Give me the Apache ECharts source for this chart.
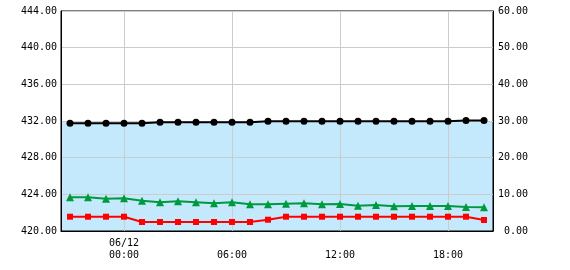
<!DOCTYPE html>
<html>
<head>
<meta charset="utf-8">
<script src="https://cdn.jsdelivr.net/npm/echarts@6/dist/echarts.min.js"></script>
<style>
html,body{margin:0;padding:0;background:#fff;}
#chart{width:570px;height:270px;}
</style>
</head>
<body>
<div id="chart"></div>
<script>
// hourly observation times
const times = [
  '2024-06-11 21:00','2024-06-11 22:00','2024-06-11 23:00',
  '2024-06-12 00:00','2024-06-12 01:00','2024-06-12 02:00','2024-06-12 03:00',
  '2024-06-12 04:00','2024-06-12 05:00','2024-06-12 06:00','2024-06-12 07:00',
  '2024-06-12 08:00','2024-06-12 09:00','2024-06-12 10:00','2024-06-12 11:00',
  '2024-06-12 12:00','2024-06-12 13:00','2024-06-12 14:00','2024-06-12 15:00',
  '2024-06-12 16:00','2024-06-12 17:00','2024-06-12 18:00','2024-06-12 19:00',
  '2024-06-12 20:00'
];
// x tick positions
const xTicks = ['2024-06-12 00:00','2024-06-12 06:00','2024-06-12 12:00','2024-06-12 18:00'];
// left axis (level)
const levelBlack = [
  431.76,431.76,431.76,431.76,431.76,
  431.86,431.86,431.86,431.86,431.86,431.86,
  431.96,431.96,431.96,431.96,431.96,431.96,431.96,431.96,431.96,431.96,431.96,
  432.05,432.05
];
// right axis
const seriesGreen = [
  9.19,9.19,8.81,8.92,8.26,7.83,8.10,7.83,7.55,7.83,7.28,7.28,
  7.45,7.55,7.28,7.36,6.90,7.09,6.73,6.82,6.82,6.82,6.55,6.46
];
const seriesRed = [
  3.90,3.90,3.90,3.90,
  2.45,2.45,2.45,2.45,2.45,2.45,2.45,
  3.08,
  3.90,3.90,3.90,3.90,3.90,3.90,3.90,3.90,3.90,3.90,3.90,
  3.00
];
const leftTicks = {min:420, max:444, interval:4};
const rightTicks = {min:0, max:60, interval:10};
const axisRange = ['2024-06-11 20:30','2024-06-12 20:30'];
const blueBand = [420, 432];

const FONT = 'DejaVu Sans Mono';
const pad = n => (n < 10 ? '0' : '') + n;
const tp = s => echarts.time.parse(s).getTime();
const pair = arr => times.map((t, i) => [tp(t), arr[i]]);
const xTickVals = xTicks.map(tp);

const chart = echarts.init(document.getElementById('chart'), null, {renderer:'canvas'});
chart.setOption({
  animation:false,
  backgroundColor:'#fff',
  grid:{left:61, right:77, top:11, bottom:39, show:true, borderColor:'#000', borderWidth:1, backgroundColor:'transparent'},
  xAxis:{
    type:'value',
    min:tp(axisRange[0]), max:tp(axisRange[1]),
    axisLine:{show:true, onZero:false, lineStyle:{color:'#000', width:1}},
    axisTick:{show:false, customValues:xTickVals},
    splitLine:{show:true, lineStyle:{color:'#cccccc', width:1}},
    axisLabel:{
      customValues:xTickVals,
      color:'#000', fontFamily:FONT, fontSize:10, margin:6, lineHeight:12,
      hideOverlap:false,
      formatter:function(v){
        const d = new Date(v);
        const hm = pad(d.getHours()) + ':' + pad(d.getMinutes());
        if (d.getHours() === 0) return pad(d.getMonth()+1) + '/' + pad(d.getDate()) + '\n' + hm;
        return '\n' + hm;
      }
    }
  },
  yAxis:[
    {
      type:'value', position:'left',
      min:leftTicks.min, max:leftTicks.max, interval:leftTicks.interval,
      axisLine:{show:true, lineStyle:{color:'#000', width:1}},
      axisTick:{show:false},
      splitLine:{show:true, lineStyle:{color:'#cccccc', width:1}},
      axisLabel:{color:'#000', fontFamily:FONT, fontSize:10, margin:4, formatter:v => v.toFixed(2)}
    },
    {
      type:'value', position:'right',
      min:rightTicks.min, max:rightTicks.max, interval:rightTicks.interval,
      axisLine:{show:true, lineStyle:{color:'#000', width:1}},
      axisTick:{show:false},
      splitLine:{show:false},
      axisLabel:{color:'#000', fontFamily:FONT, fontSize:10, margin:35, align:'right', formatter:v => v.toFixed(2)}
    }
  ],
  series:[
    {
      type:'line', yAxisIndex:0, z:-1, data:[], silent:true,
      markArea:{
        silent:true, z:-1,
        itemStyle:{color:'#c4e9fc'},
        data:[[{yAxis:blueBand[0]},{yAxis:blueBand[1]}]]
      }
    },
    {
      type:'line', yAxisIndex:0, data:pair(levelBlack),
      symbol:'circle', symbolSize:7, showAllSymbol:true,
      lineStyle:{color:'#000', width:2}, itemStyle:{color:'#000'}
    },
    {
      type:'line', yAxisIndex:1, data:pair(seriesGreen),
      symbol:'triangle', symbolSize:[8,8], showAllSymbol:true,
      lineStyle:{color:'#009a3e', width:2}, itemStyle:{color:'#009a3e'}
    },
    {
      type:'line', yAxisIndex:1, data:pair(seriesRed),
      symbol:'rect', symbolSize:6, showAllSymbol:true,
      lineStyle:{color:'#ff0000', width:2}, itemStyle:{color:'#ff0000'}
    }
  ]
});
</script>
</body>
</html>
